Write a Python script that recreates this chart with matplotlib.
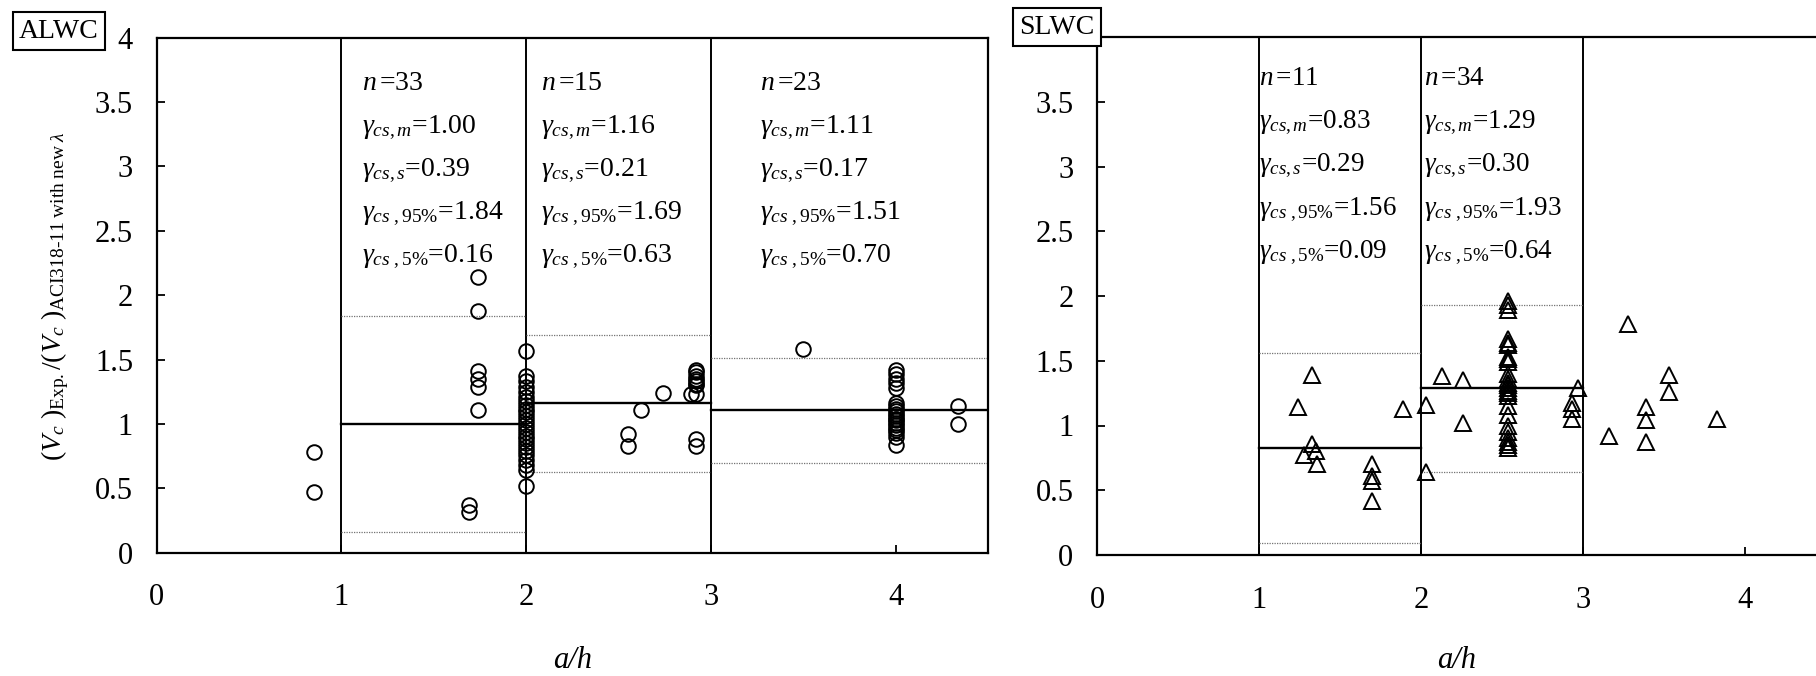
import matplotlib
matplotlib.use('Agg')
import matplotlib.pyplot as plt

plt.rcParams['font.family'] = ['Liberation Serif', 'DejaVu Serif']
plt.rcParams['mathtext.fontset'] = 'custom'
plt.rcParams['mathtext.rm'] = 'Liberation Serif'
plt.rcParams['mathtext.it'] = 'Liberation Serif:italic'
plt.rcParams['mathtext.bf'] = 'Liberation Serif:bold'

# ---------------- data ----------------
# ALWC (circles)
alwc_ah = ([0.85, 0.85]
           + [1.74] * 6 + [1.69, 1.69]
           + [2.0] * 25
           + [2.55, 2.55, 2.62, 2.74]
           + [2.92] * 9 + [2.89, 2.92]
           + [3.50]
           + [4.0] * 20
           + [4.34, 4.34])
alwc_ratio = ([0.78, 0.47]
              + [2.14, 1.88, 1.41, 1.35, 1.29, 1.11] + [0.37, 0.32]
              + [1.57, 1.37, 1.33, 1.29, 1.25, 1.21, 1.18, 1.15, 1.12, 1.09,
                 1.06, 1.03, 1.00, 0.97, 0.94, 0.91, 0.88, 0.85, 0.82, 0.79,
                 0.76, 0.72, 0.68, 0.64, 0.52]
              + [0.92, 0.83, 1.11, 1.24]
              + [1.42, 1.40, 1.37, 1.35, 1.33, 1.31, 1.30, 0.88, 0.83] + [1.23, 1.23]
              + [1.58]
              + [1.42, 1.39, 1.35, 1.32, 1.28, 1.16, 1.14, 1.12, 1.10, 1.08,
                 1.06, 1.04, 1.03, 1.01, 0.99, 0.97, 0.95, 0.93, 0.90, 0.84]
              + [1.14, 1.00])

# SLWC (triangles)
slwc_ah = ([1.24, 1.33, 1.33, 1.28, 1.35, 1.36, 1.70, 1.70, 1.70, 1.70, 1.89]
           + [2.03, 2.03, 2.13, 2.26, 2.26]
           + [2.54] * 25
           + [2.93, 2.93, 2.93, 2.97]
           + [3.16, 3.28, 3.39, 3.39, 3.39, 3.53, 3.53, 3.83])
slwc_ratio = ([1.14, 1.39, 0.86, 0.77, 0.80, 0.70, 0.70, 0.61, 0.57, 0.42, 1.13]
              + [1.16, 0.64, 1.38, 1.35, 1.02]
              + [1.96, 1.93, 1.89, 1.67, 1.64, 1.62, 1.53, 1.51, 1.49, 1.40,
                 1.36, 1.33, 1.31, 1.29, 1.27, 1.25, 1.23, 1.15, 1.08, 1.00,
                 0.95, 0.90, 0.87, 0.85, 0.83]
              + [1.17, 1.13, 1.05, 1.29]
              + [0.92, 1.78, 1.14, 1.04, 0.87, 1.39, 1.26, 1.05])

# statistics per a/h range
alwc_ranges = [(1, 2), (2, 3), (3, 4.5)]
alwc_n = [33, 15, 23]
alwc_mean = [1.00, 1.16, 1.11]
alwc_std = [0.39, 0.21, 0.17]
alwc_p95 = [1.84, 1.69, 1.51]
alwc_p5 = [0.16, 0.63, 0.70]

slwc_ranges = [(1, 2), (2, 3)]
slwc_n = [11, 34]
slwc_mean = [0.83, 1.29]
slwc_std = [0.29, 0.30]
slwc_p95 = [1.56, 1.93]
slwc_p5 = [0.09, 0.64]

yticks = [0, 0.5, 1, 1.5, 2, 2.5, 3, 3.5, 4]
ytick_labels_left = ['0', '0.5', '1', '1.5', '2', '2.5', '3', '3.5', '4']
ytick_labels_right = ['0', '0.5', '1', '1.5', '2', '2.5', '3', '3.5', '']
xticks = [0, 1, 2, 3, 4]
xtick_labels = ['0', '1', '2', '3', '4']

# ---------------- figure ----------------
W, H = 1816, 676
fig = plt.figure(figsize=(W / 100, H / 100), dpi=100)

ax1 = fig.add_axes([156.7 / W, 1 - 552.7 / H, 831.3 / W, 515 / H])
ax2 = fig.add_axes([1097 / W, 1 - 555 / H, 729 / W, 518 / H])

TICK_FS = 22
ANN_FS = 20


def style_axis(ax, ylabels):
    ax.set_xlim(0, 4.5)
    ax.set_ylim(0, 4)
    ax.set_xticks(xticks)
    ax.set_xticklabels(xtick_labels)
    ax.set_yticks(yticks)
    ax.set_yticklabels(ylabels)
    ax.tick_params(axis='both', direction='in', length=6, width=1.3,
                   labelsize=TICK_FS, top=False, right=False)
    ax.tick_params(axis='x', pad=22)
    ax.tick_params(axis='y', pad=17)
    for s in ax.spines.values():
        s.set_linewidth(1.6)


def draw_stats(ax, ranges, n, mean, std, p95, p5, text_x, base_y, dy, fs):
    for i, (a, b) in enumerate(ranges):
        ax.plot([a, b], [mean[i], mean[i]], color='black', lw=1.7, zorder=3)
        ax.plot([a, b], [p95[i], p95[i]], color='0.45', lw=0.9,
                ls=(0, (1, 1)), zorder=2)
        ax.plot([a, b], [p5[i], p5[i]], color='0.45', lw=0.9,
                ls=(0, (1, 1)), zorder=2)
        lines = [r'$n\,$=%d' % n[i],
                 r'$\gamma_{cs,m}$=%.2f' % mean[i],
                 r'$\gamma_{cs,s}$=%.2f' % std[i],
                 r'$\gamma_{cs\ ,\mathrm{95\%%}}$=%.2f' % p95[i],
                 r'$\gamma_{cs\ ,\mathrm{5\%%}}$=%.2f' % p5[i]]
        for k, t in enumerate(lines):
            ax.text(text_x[i], base_y - dy * k, t, fontsize=fs,
                    ha='left', va='baseline', zorder=5)


style_axis(ax1, ytick_labels_left)
style_axis(ax2, ytick_labels_right)
ax2.spines['right'].set_visible(False)

for xv in [1, 2, 3]:
    ax1.axvline(xv, color='black', lw=1.4, zorder=2)
    ax2.axvline(xv, color='black', lw=1.4, zorder=2)

draw_stats(ax1, alwc_ranges, alwc_n, alwc_mean, alwc_std, alwc_p95, alwc_p5,
           [1.11, 2.08, 3.265], 3.59, 0.333, ANN_FS)
draw_stats(ax2, slwc_ranges, slwc_n, slwc_mean, slwc_std, slwc_p95, slwc_p5,
           [1.0, 2.02], 3.63, 0.335, ANN_FS - 0.5)

ax1.plot(alwc_ah, alwc_ratio, ls='none', marker='o', ms=10.5, mfc='none',
         mec='black', mew=1.4, zorder=4, clip_on=False)
ax2.plot(slwc_ah, slwc_ratio, ls='none', marker='^', ms=11.5, mfc='none',
         mec='black', mew=1.4, zorder=4, clip_on=False)

# axis labels
fig.text(573 / W, 1 - 660 / H, 'a/h', fontsize=TICK_FS, style='italic',
         ha='center', va='center')
fig.text(1457 / W, 1 - 660 / H, 'a/h', fontsize=TICK_FS, style='italic',
         ha='center', va='center')
fig.text(55 / W, 1 - 296 / H,
         r'$(V_c\ )_{\mathrm{Exp.}}/(V_c\ )_{\mathrm{ACI318‐11\ with\ new}\ \lambda}$',
         fontsize=20, rotation=90, ha='center', va='center')

# panel tags
box = dict(boxstyle='square,pad=0.22', fc='white', ec='black', lw=1.5)
fig.text(59 / W, 1 - 31 / H, 'ALWC', fontsize=20, ha='center', va='center',
         bbox=box, zorder=10)
fig.text(1057 / W, 1 - 27 / H, 'SLWC', fontsize=20, ha='center', va='center',
         bbox=box, zorder=10)

fig.savefig('out.png', dpi=100)
